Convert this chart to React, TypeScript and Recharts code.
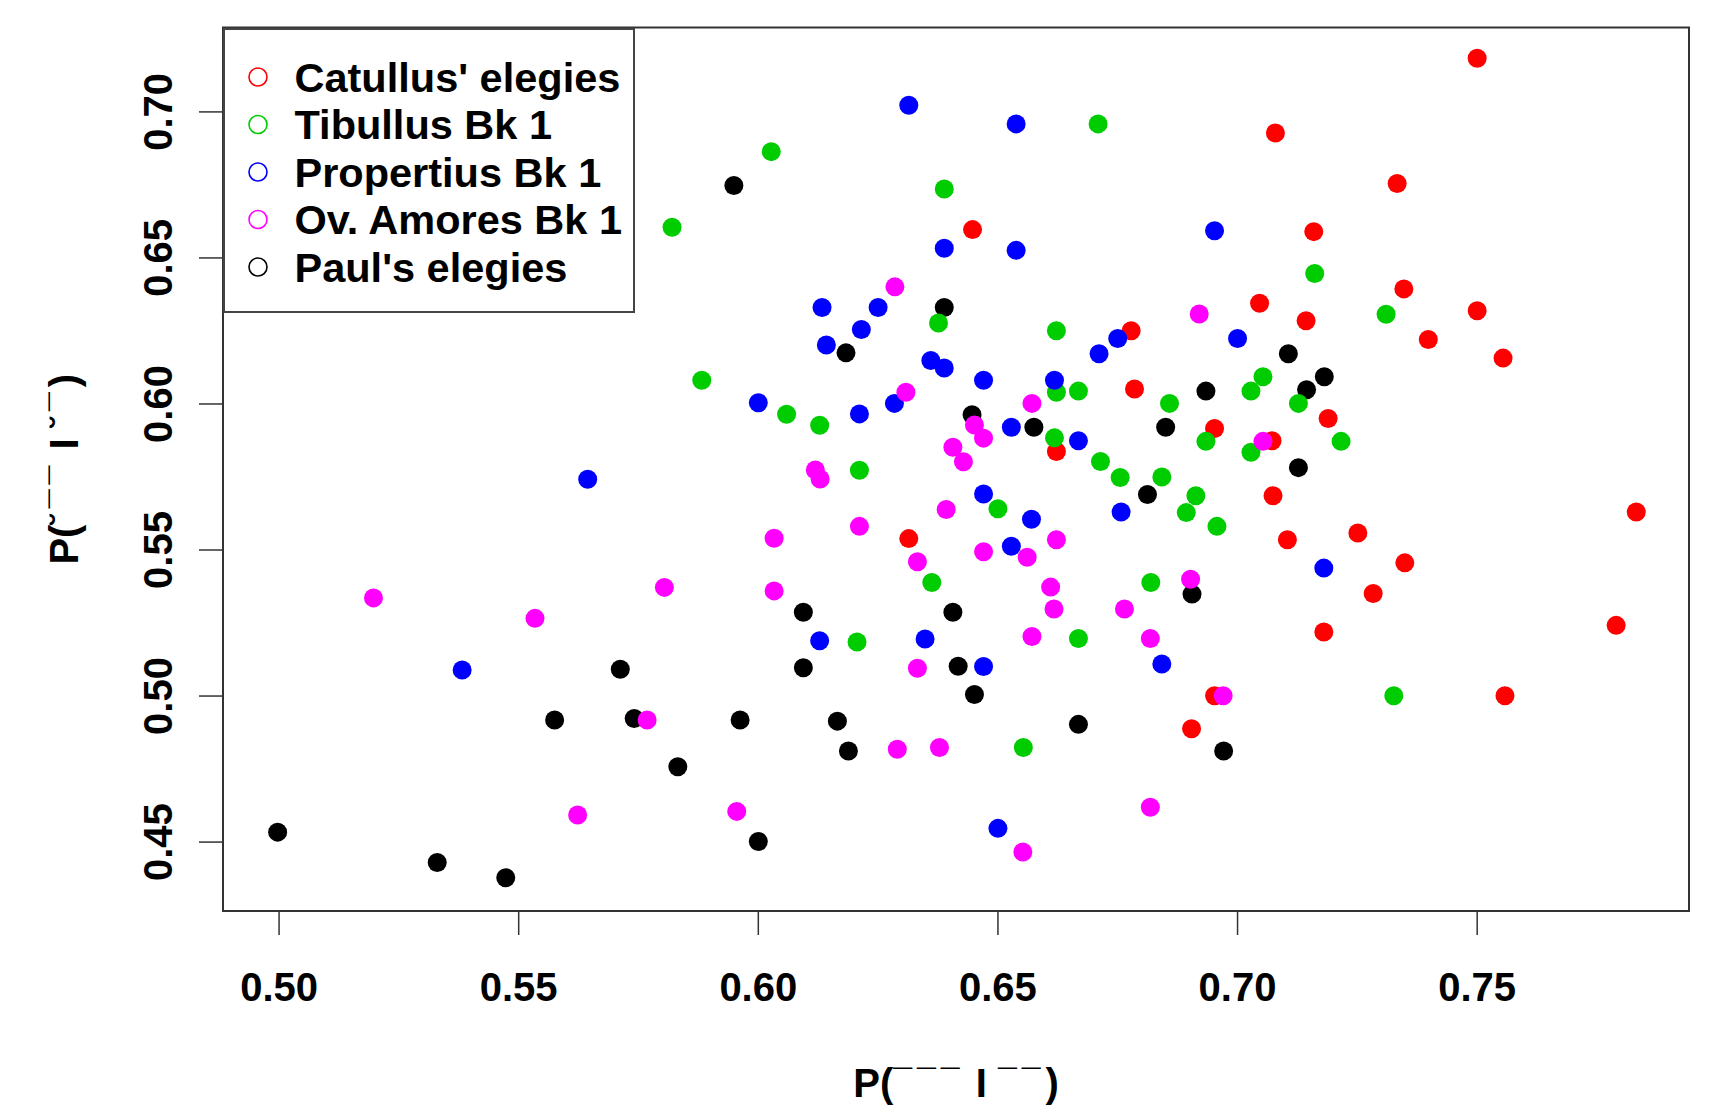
import React from 'react';
import { ScatterChart, Scatter, XAxis, YAxis, ReferenceArea, Legend } from 'recharts';

// ---------------- data ----------------
const catullusX = [0.750, 0.7079, 0.7333, 0.6447, 0.7159, 0.7347, 0.7046, 0.750, 0.7143, 0.6778, 0.7398, 0.7554, 0.6785, 0.7189, 0.6952, 0.7072, 0.6622, 0.7074, 0.7832, 0.6314, 0.7104, 0.7251, 0.7349, 0.7283, 0.7790, 0.7180, 0.6952, 0.7558, 0.6904];
const catullusY = [0.7184, 0.6928, 0.6755, 0.6597, 0.6590, 0.6394, 0.6345, 0.6319, 0.6285, 0.6251, 0.6221, 0.6157, 0.6051, 0.5950, 0.5916, 0.5874, 0.5837, 0.5686, 0.5630, 0.5539, 0.5535, 0.5558, 0.5456, 0.5351, 0.5242, 0.5219, 0.5001, 0.5001, 0.4888];

const tibullusX = [0.6027, 0.6709, 0.5820, 0.6388, 0.7161, 0.7310, 0.6376, 0.6622, 0.5882, 0.6622, 0.6668, 0.7028, 0.7053, 0.6858, 0.7127, 0.6059, 0.6128, 0.6618, 0.6934, 0.7028, 0.7216, 0.6714, 0.6755, 0.6842, 0.6211, 0.6500, 0.6893, 0.6913, 0.6957, 0.6362, 0.6819, 0.6206, 0.6668, 0.7326, 0.6553];
const tibullusY = [0.6864, 0.6959, 0.6605, 0.6736, 0.6447, 0.6307, 0.6277, 0.6251, 0.6081, 0.6040, 0.6044, 0.6044, 0.6093, 0.6002, 0.6002, 0.5965, 0.5927, 0.5884, 0.5872, 0.5835, 0.5872, 0.5803, 0.5748, 0.5750, 0.5773, 0.5641, 0.5628, 0.5686, 0.5581, 0.5389, 0.5389, 0.5185, 0.5197, 0.5001, 0.4824];

const propertiusX = [0.6314, 0.6538, 0.6952, 0.6388, 0.6538, 0.6133, 0.6250, 0.6215, 0.6142, 0.6750, 0.7000, 0.6711, 0.6360, 0.6388, 0.6470, 0.6618, 0.6000, 0.6284, 0.6211, 0.6528, 0.6668, 0.5644, 0.6470, 0.6757, 0.6570, 0.6528, 0.7180, 0.6128, 0.6348, 0.6470, 0.6842, 0.5382, 0.6500];
const propertiusY = [0.7023, 0.6959, 0.6593, 0.6533, 0.6526, 0.6330, 0.6330, 0.6255, 0.6202, 0.6224, 0.6224, 0.6172, 0.6149, 0.6123, 0.6081, 0.6081, 0.6004, 0.6002, 0.5966, 0.5920, 0.5874, 0.5742, 0.5692, 0.5630, 0.5605, 0.5513, 0.5438, 0.5189, 0.5195, 0.5101, 0.5110, 0.5089, 0.4547];

const ovidX = [0.6285, 0.6920, 0.6308, 0.6571, 0.7053, 0.6451, 0.6470, 0.6406, 0.6428, 0.6119, 0.6129, 0.6392, 0.6211, 0.6033, 0.6622, 0.6470, 0.6561, 0.6332, 0.6902, 0.6033, 0.6610, 0.6617, 0.6764, 0.6571, 0.6818, 0.6332, 0.5804, 0.5197, 0.5534, 0.5768, 0.5623, 0.6290, 0.6378, 0.5955, 0.6818, 0.6552, 0.6970];
const ovidY = [0.6401, 0.6308, 0.6040, 0.6002, 0.5872, 0.5928, 0.5883, 0.5852, 0.5802, 0.5774, 0.5743, 0.5639, 0.5581, 0.5540, 0.5535, 0.5494, 0.5475, 0.5460, 0.5400, 0.5360, 0.5373, 0.5298, 0.5298, 0.5204, 0.5197, 0.5095, 0.5372, 0.5336, 0.5266, 0.4918, 0.4593, 0.4818, 0.4824, 0.4605, 0.4619, 0.4466, 0.5001];

const paulX = [0.5949, 0.6388, 0.6183, 0.7106, 0.7181, 0.6934, 0.7144, 0.6446, 0.6575, 0.6850, 0.7127, 0.6812, 0.6905, 0.6094, 0.6406, 0.5712, 0.6094, 0.6417, 0.6451, 0.5575, 0.5741, 0.5962, 0.6165, 0.6668, 0.5832, 0.6188, 0.6971, 0.6000, 0.4997, 0.5330, 0.5473];
const paulY = [0.6748, 0.6330, 0.6175, 0.6172, 0.6093, 0.6044, 0.6049, 0.5963, 0.5920, 0.5920, 0.5782, 0.5690, 0.5349, 0.5287, 0.5287, 0.5092, 0.5097, 0.5102, 0.5005, 0.4918, 0.4923, 0.4918, 0.4914, 0.4903, 0.4758, 0.4812, 0.4812, 0.4502, 0.4534, 0.4430, 0.4378];

const seriesNames = ["Catullus' elegies", 'Tibullus Bk 1', 'Propertius Bk 1', 'Ov. Amores Bk 1', "Paul's elegies"];
const seriesColors = ['#FF0000', '#00CD00', '#0000FF', '#FF00FF', '#000000'];

const xTicks = [0.5, 0.55, 0.6, 0.65, 0.7, 0.75];
const yTicks = [0.45, 0.5, 0.55, 0.6, 0.65, 0.7];
const xDomain = [0.4883, 0.7942];
const yDomain = [0.4264, 0.7289];

// axis titles: metrical marks (macron = long, breve = short)
const xTitleParts = ['P(', '\u00AF\u00AF\u00AF', ' I ', '\u00AF\u00AF', ')'];
const yTitleParts = ['P(', '\u02D8\u00AF\u00AF', ' I ', '\u02D8\u00AF', ')'];

// ---------------- helpers ----------------
const zip = (xs: number[], ys: number[]) => xs.map((x, i) => ({ x, y: ys[i] }));

const FONT = '"Liberation Sans", Arial, Helvetica, sans-serif';

const dot = (color: string) => (props: any) => (
  <circle cx={props.cx} cy={props.cy} r={9.5} fill={color} />
);

const XTick = (props: any) => {
  const { x, y, payload } = props;
  return (
    <text x={x} y={y + 66} textAnchor="middle" fontFamily={FONT} fontWeight="bold" fontSize={40} fill="#000">
      {Number(payload.value).toFixed(2)}
    </text>
  );
};

const YTick = (props: any) => {
  const { x, y, payload } = props;
  return (
    <text transform={`translate(${x - 27},${y}) rotate(-90)`} x={0} y={0} textAnchor="middle" fontFamily={FONT} fontWeight="bold" fontSize={40} fill="#000">
      {Number(payload.value).toFixed(2)}
    </text>
  );
};

const TitleSpans = ({ parts }: { parts: string[] }) => (
  <>
    {parts.map((p, i) =>
      i % 2 === 1 ? (
        <tspan key={i} fontSize={34} letterSpacing={5} dy={-4}>{p}</tspan>
      ) : (
        <tspan key={i} fontSize={40} dy={i === 0 ? 0 : 4}>{p}</tspan>
      )
    )}
  </>
);

const XTitle = (props: any) => {
  const vb = props.viewBox;
  return (
    <text x={vb.x + vb.width / 2} y={vb.y + 186} textAnchor="middle" fontFamily={FONT} fontWeight="bold" fontSize={40} fill="#000">
      <TitleSpans parts={xTitleParts} />
    </text>
  );
};

const YTitle = (props: any) => {
  const vb = props.viewBox;
  return (
    <text transform={`translate(${vb.x + 78},${vb.y + vb.height / 2}) rotate(-90)`} x={0} y={0} textAnchor="middle" fontFamily={FONT} fontWeight="bold" fontSize={40} fill="#000">
      <TitleSpans parts={yTitleParts} />
    </text>
  );
};

const LegendBox = () => (
  <svg width={412} height={285} style={{ display: 'block' }}>
    <rect x={1} y={1} width={410} height={283} fill="#fff" stroke="#444" strokeWidth={2} />
    {seriesNames.map((name, i) => {
      const cy = 49 + i * 47.5;
      return (
        <g key={name}>
          <circle cx={35} cy={cy} r={9} fill="none" stroke={seriesColors[i]} strokeWidth={1.6} />
          <text x={71.5} y={cy + 14.6} fontFamily={FONT} fontWeight="bold" fontSize={41.5} fill="#000">
            {name}
          </text>
        </g>
      );
    })}
  </svg>
);

export default function App() {
  const catullus = zip(catullusX, catullusY);
  const tibullus = zip(tibullusX, tibullusY);
  const propertius = zip(propertiusX, propertiusY);
  const ovid = zip(ovidX, ovidY);
  const paul = zip(paulX, paulY);

  return (
    <div style={{ position: 'absolute', left: 0, top: 0, width: 1723, height: 1106, background: '#fff' }}>
      <ScatterChart width={1723} height={1106} margin={{ top: 27.5, right: 34, bottom: 0, left: 0 }}>
        <XAxis
          type="number"
          dataKey="x"
          domain={xDomain}
          ticks={xTicks}
          interval={0}
          allowDataOverflow
          axisLine={false}
          tickLine={{ stroke: '#333', strokeWidth: 1.5 }}
          tickSize={24}
          tickMargin={0}
          height={195}
          tick={<XTick />}
          label={{ content: (p: any) => <XTitle {...p} /> }}
        />
        <YAxis
          type="number"
          dataKey="y"
          domain={yDomain}
          ticks={yTicks}
          interval={0}
          allowDataOverflow
          axisLine={false}
          tickLine={{ stroke: '#333', strokeWidth: 1.5 }}
          tickSize={24}
          tickMargin={0}
          width={223}
          tick={<YTick />}
          label={{ content: (p: any) => <YTitle {...p} /> }}
        />
        <ReferenceArea
          x1={xDomain[0]}
          x2={xDomain[1]}
          y1={yDomain[0]}
          y2={yDomain[1]}
          fill="none"
          fillOpacity={0}
          stroke="#333"
          strokeWidth={2}
          ifOverflow="visible"
        />
        <Scatter name={seriesNames[4]} data={paul} fill={seriesColors[4]} shape={dot(seriesColors[4])} isAnimationActive={false} />
        <Scatter name={seriesNames[0]} data={catullus} fill={seriesColors[0]} shape={dot(seriesColors[0])} isAnimationActive={false} />
        <Scatter name={seriesNames[1]} data={tibullus} fill={seriesColors[1]} shape={dot(seriesColors[1])} isAnimationActive={false} />
        <Scatter name={seriesNames[2]} data={propertius} fill={seriesColors[2]} shape={dot(seriesColors[2])} isAnimationActive={false} />
        <Scatter name={seriesNames[3]} data={ovid} fill={seriesColors[3]} shape={dot(seriesColors[3])} isAnimationActive={false} />
        <Legend
          layout="vertical"
          align="center"
          verticalAlign="middle"
          content={() => <LegendBox />}
          wrapperStyle={{ left: 223, top: 27.5, width: 412, height: 285, margin: 0, padding: 0 }}
        />
      </ScatterChart>
    </div>
  );
}
